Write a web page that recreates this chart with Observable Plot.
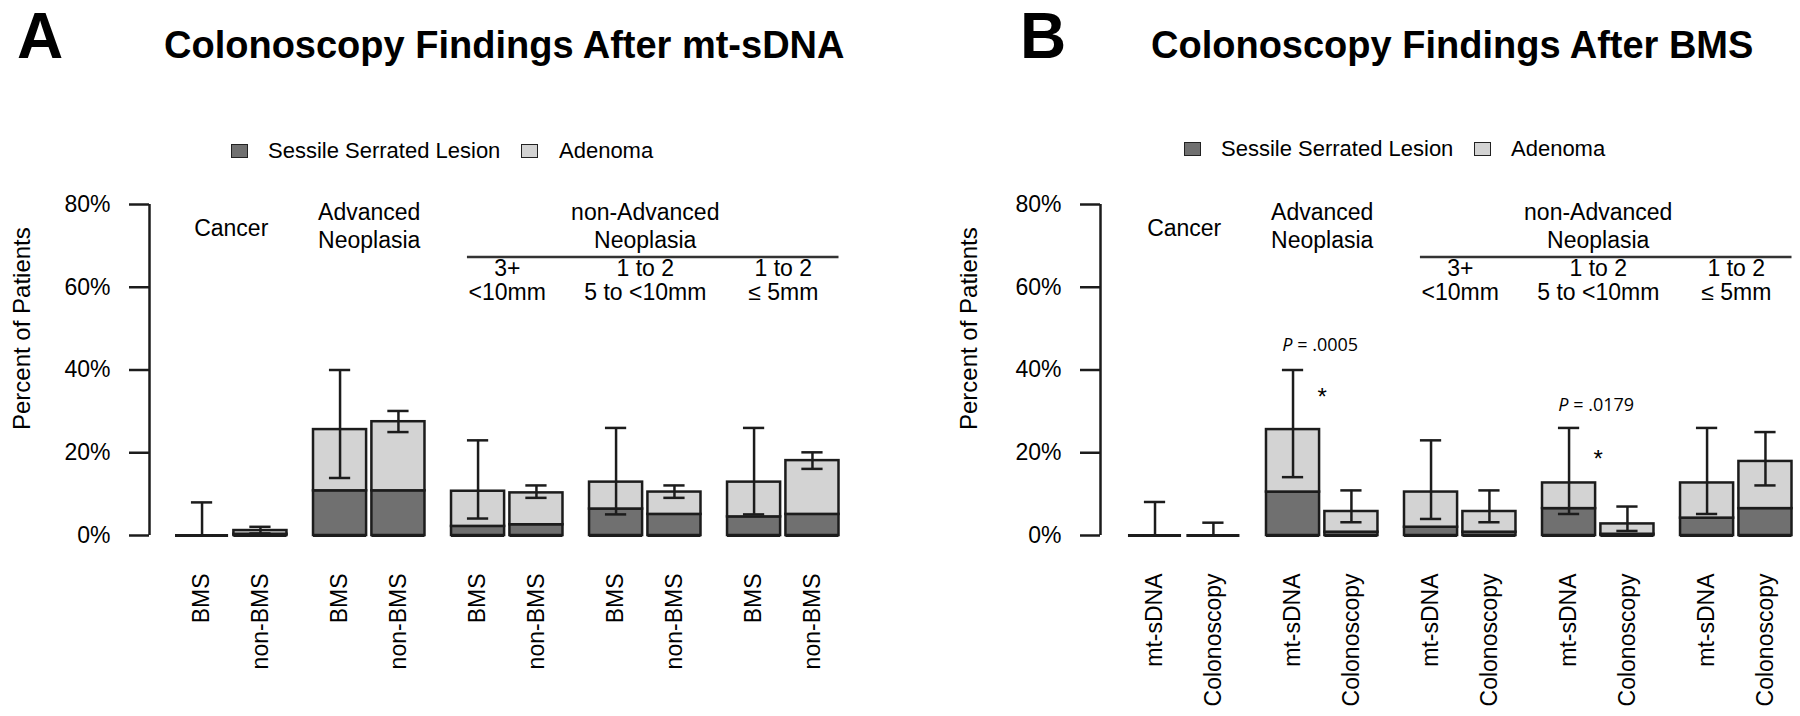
<!DOCTYPE html>
<html><head><meta charset="utf-8">
<script src="https://cdn.jsdelivr.net/npm/d3@7"></script>
<script src="https://cdn.jsdelivr.net/npm/@observablehq/plot@0.6"></script>
<style>
body{margin:0;background:#fff;}
#root{position:relative;width:1800px;height:716px;overflow:hidden;font-family:"Liberation Sans",Arial,Helvetica,sans-serif;color:#000;background:#fff;}
.abs{position:absolute;white-space:nowrap;line-height:1;}
.letter{font-weight:bold;font-size:64px;line-height:1.15;}
.title{font-weight:bold;font-size:38px;}
.leg{font-size:22px;}
.sw{position:absolute;box-sizing:border-box;width:17px;height:14px;border:1.5px solid #222;}
.panel{position:absolute;top:150px;}
</style></head><body><div id="root"></div>
<script>
// ---------- data ----------
const groups = ["Cancer", "Advanced Neoplasia", "3+ <10mm", "1 to 2 5 to <10mm", "1 to 2 ≤5mm"];
const headerTexts = ["Cancer", "Advanced\nNeoplasia", "non-Advanced\nNeoplasia"];
const headerGroups = [0, 1, 3];
const subHeaderTexts = ["3+\n<10mm", "1 to 2\n5 to <10mm", "1 to 2\n≤ 5mm"];
const subHeaderGroups = [2, 3, 4];
const yTicks = [0, 20, 40, 60, 80];
const legendLabels = ["Sessile Serrated Lesion", "Adenoma"];

// Panel A: Colonoscopy Findings After mt-sDNA
const membersA = ["BMS", "non-BMS"];
const sslA   = [0, 0.3, 10.8, 10.8, 2.2, 2.6, 6.4, 5.1, 4.5, 5.1];
const totalA = [0, 1.2, 25.6, 27.5, 10.7, 10.3, 12.9, 10.5, 12.9, 18.1];
const loA    = [0, 0.5, 13.9, 25.0, 4.1, 9.1, 5.1, 9.1, 5.1, 16.1];
const hiA    = [8, 2.1, 40.0, 30.1, 23.0, 12.1, 26.0, 12.1, 26.0, 20.1];

// Panel B: Colonoscopy Findings After BMS
const membersB = ["mt-sDNA", "Colonoscopy"];
const sslB   = [0, 0, 10.5, 0.8, 2.0, 0.8, 6.5, 0.3, 4.2, 6.5];
const totalB = [0, 0, 25.6, 5.8, 10.5, 5.8, 12.7, 2.8, 12.7, 17.9];
const loB    = [0, 0, 14.1, 3.2, 4.0, 3.2, 5.2, 1.1, 5.2, 12.1];
const hiB    = [8.1, 3.1, 40.0, 10.9, 23.0, 10.9, 26.0, 7.0, 26.0, 25.0];

// significance annotations (panel B)
const pTexts = ["= .0005", "= .0179"];
const pGroups = [1, 3];
const pY = [44.5, 30.2];
const starGroups = [1, 3];
const starY = [34.8, 19.9];

// ---------- layout ----------
const FONT = '"Liberation Sans", Arial, Helvetica, sans-serif';
const DARK = "#707070", LIGHT = "#d3d3d3", INK = "#1c1c1c";
const gc = gi => gi * 2.6 + 0.55;

function makePanel({members, ssl, total, lo, hi, xmin, marginLeft, marginRight, ylabelDx, annotate}) {
  const rows = [];
  groups.forEach((g, gi) => members.forEach((m, mi) => {
    const i = gi * 2 + mi;
    rows.push({group: g, member: m, pos: gi * 2.6 + mi * 1.1, ssl: ssl[i], total: total[i], lo: lo[i], hi: hi[i]});
  }));
  const headers = headerTexts.map((t, i) => ({t, g: headerGroups[i]}));
  const subs = subHeaderTexts.map((t, i) => ({t, g: subHeaderGroups[i]}));
  const marks = [
    Plot.rect(rows, {x1: d => d.pos - 0.5, x2: d => d.pos + 0.5, y1: 0, y2: "ssl", fill: DARK, stroke: INK, strokeWidth: 2.5}),
    Plot.rect(rows, {x1: d => d.pos - 0.5, x2: d => d.pos + 0.5, y1: "ssl", y2: "total", fill: LIGHT, stroke: INK, strokeWidth: 2.5}),
    Plot.ruleY(rows, {x1: d => d.pos - 0.5, x2: d => d.pos + 0.5, y: 0, stroke: INK, strokeWidth: 3}),
    Plot.ruleX(rows, {x: "pos", y1: "lo", y2: "hi", stroke: INK, strokeWidth: 2.5}),
    Plot.ruleY(rows, {x1: d => d.pos - 0.2, x2: d => d.pos + 0.2, y: "hi", stroke: INK, strokeWidth: 2.5}),
    Plot.ruleY(rows, {x1: d => d.pos - 0.2, x2: d => d.pos + 0.2, y: "lo", stroke: INK, strokeWidth: 2.5}),
    Plot.ruleX([xmin], {y1: 0, y2: 80, stroke: INK, strokeWidth: 2.5}),
    Plot.axisY({ticks: yTicks, tickFormat: d => d + "%", tickSize: 20, tickPadding: 19, fontSize: 23, stroke: INK, strokeWidth: 2.5, anchor: "left"}),
    Plot.text(["Percent of Patients"], {x: xmin, y: 50, rotate: -90, dx: ylabelDx, fontSize: 24}),
    Plot.text(rows, {x: "pos", y: 0, text: "member", rotate: -90, textAnchor: "end", dy: 38, fontSize: 23}),
    Plot.text(headers, {x: d => gc(d.g), y: d => d.g === 0 ? 72.5 : 69.5, text: "t", lineAnchor: "bottom", lineHeight: 1.2, fontSize: 23}),
    Plot.ruleY([67.3], {x1: 5, x2: 12, stroke: "#333", strokeWidth: 2.5}),
    Plot.text(subs, {x: d => gc(d.g), y: 57.0, text: "t", lineAnchor: "bottom", lineHeight: 1.05, fontSize: 23})
  ];
  if (annotate) {
    const ps = pTexts.map((t, i) => ({t, g: pGroups[i], y: pY[i]}));
    const st = starGroups.map((g, i) => ({g, y: starY[i]}));
    marks.push(
      Plot.text(ps, {x: d => gc(d.g), y: "y", text: () => "P", fontStyle: "italic", textAnchor: "start", dx: -40, fontSize: 18, fontFamily: '"Open Sans", "Noto Sans", sans-serif', lineAnchor: "bottom"}),
      Plot.text(ps, {x: d => gc(d.g), y: "y", text: "t", textAnchor: "start", dx: -25, fontSize: 18, fontFamily: '"Open Sans", "Noto Sans", sans-serif', lineAnchor: "bottom"}),
      Plot.text(st, {x: d => gc(d.g), y: "y", text: () => "*", fontSize: 24, dy: 6})
    );
  }
  return Plot.plot({
    width: 900, height: 566,
    marginTop: 54, marginBottom: 181, marginLeft, marginRight,
    style: {fontFamily: FONT, fontSize: "23px", color: "#000", background: "transparent", overflow: "visible"},
    x: {domain: [xmin, 12], axis: null},
    y: {domain: [0, 80], axis: null},
    marks
  });
}

const root = document.getElementById("root");
function addDiv(cls, text, left, top) {
  const d = document.createElement("div");
  d.className = "abs " + cls;
  d.textContent = text;
  d.style.left = left + "px";
  d.style.top = top + "px";
  root.appendChild(d);
  return d;
}
function addSwatch(color, left, top) {
  const d = document.createElement("div");
  d.className = "sw";
  d.style.left = left + "px";
  d.style.top = top + "px";
  d.style.background = color;
  root.appendChild(d);
}

// Panel A headers
addDiv("letter", "A", 17, 0);
addDiv("title", "Colonoscopy Findings After mt-sDNA", 164, 26);
addSwatch(DARK, 231, 144); addDiv("leg", legendLabels[0], 268, 139.5);
addSwatch(LIGHT, 521, 144); addDiv("leg", legendLabels[1], 559, 139.5);
// Panel B headers
addDiv("letter", "B", 1020, 0);
addDiv("title", "Colonoscopy Findings After BMS", 1151, 26);
addSwatch(DARK, 1184, 142); addDiv("leg", legendLabels[0], 1221, 137.5);
addSwatch(LIGHT, 1474, 142); addDiv("leg", legendLabels[1], 1511, 137.5);

const pa = makePanel({members: membersA, ssl: sslA, total: totalA, lo: loA, hi: hiA,
  xmin: -0.99, marginLeft: 149, marginRight: 61.5, ylabelDx: -127, annotate: false});
const pb = makePanel({members: membersB, ssl: sslB, total: totalB, lo: loB, hi: hiB,
  xmin: -1.027, marginLeft: 200, marginRight: 8.5, ylabelDx: -131, annotate: true});
const wa = document.createElement("div"); wa.className = "panel"; wa.style.left = "0px"; wa.appendChild(pa); root.appendChild(wa);
const wb = document.createElement("div"); wb.className = "panel"; wb.style.left = "900px"; wb.appendChild(pb); root.appendChild(wb);
</script></body></html>
